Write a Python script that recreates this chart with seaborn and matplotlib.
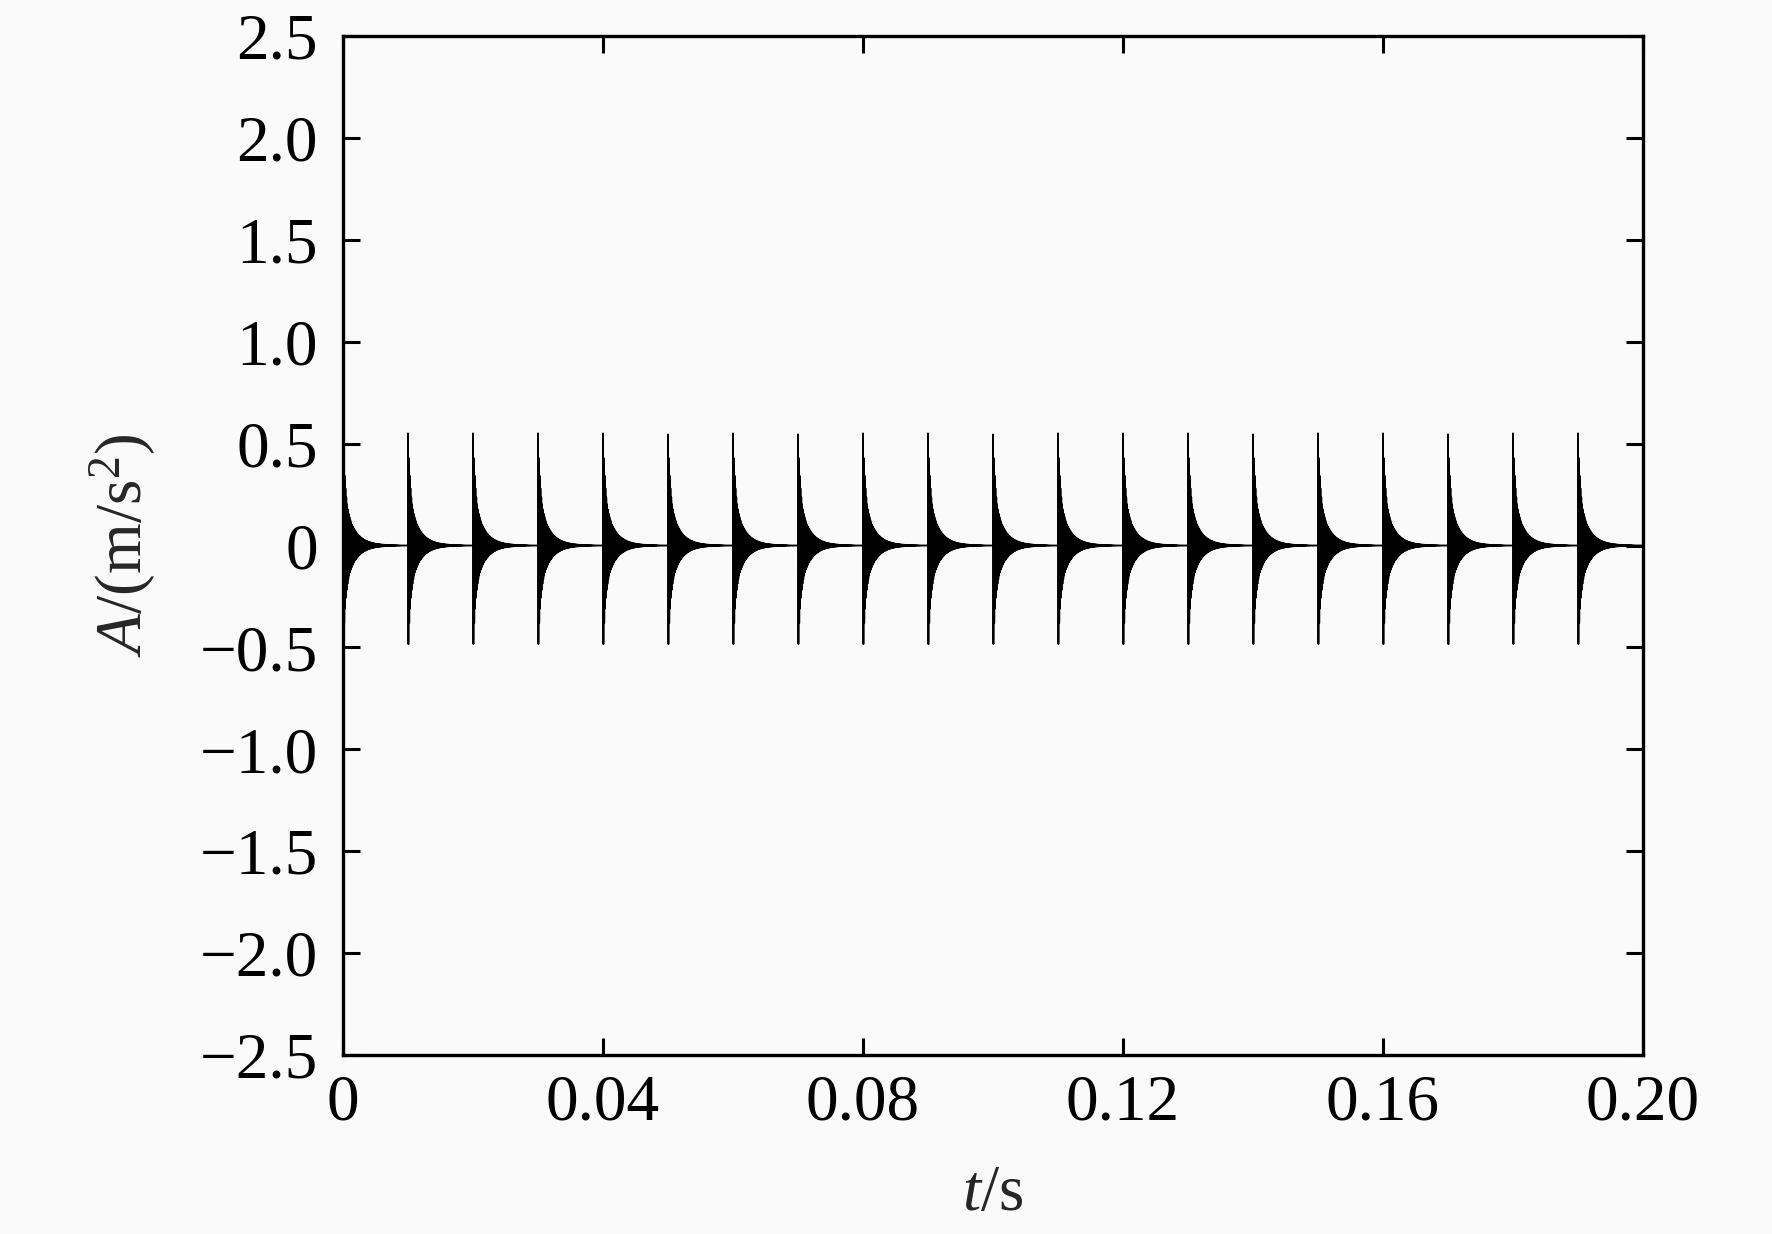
import numpy as np
import pandas as pd
import matplotlib
matplotlib.use("Agg")
import matplotlib.pyplot as plt
import seaborn as sns
from matplotlib.ticker import FixedLocator, FixedFormatter

# ---- data ----
impulse_times = [0.00, 0.01, 0.02, 0.03, 0.04, 0.05, 0.06, 0.07, 0.08, 0.09,
                 0.10, 0.11, 0.12, 0.13, 0.14, 0.15, 0.16, 0.17, 0.18, 0.19]
fast_amplitude = [0.30] * 20      # sharp spike part of each impulse (m/s^2)
slow_amplitude = [0.25] * 20      # slower decaying part (m/s^2)
fast_decay_s = 0.0003             # decay time constant of spike part
slow_decay_s = 0.0015             # decay time constant of slower part
ring_freq_hz = 8000.0             # ringing frequency
x_ticks = [0, 0.04, 0.08, 0.12, 0.16, 0.20]
x_tick_labels = ["0", "0.04", "0.08", "0.12", "0.16", "0.20"]
y_ticks = [-2.5, -2.0, -1.5, -1.0, -0.5, 0, 0.5, 1.0, 1.5, 2.0, 2.5]
y_tick_labels = ["\u22122.5", "\u22122.0", "\u22121.5", "\u22121.0", "\u22120.5", "0",
                 "0.5", "1.0", "1.5", "2.0", "2.5"]

# ---- build the signal ----
t = np.arange(0.0, 0.2, 2e-6)
a = np.zeros_like(t)
for tk, af, asl in zip(impulse_times, fast_amplitude, slow_amplitude):
    tau = t - tk
    m = tau >= 0
    env = af * np.exp(-tau[m] / fast_decay_s) + asl * np.exp(-tau[m] / slow_decay_s)
    a[m] += env * np.cos(2 * np.pi * ring_freq_hz * tau[m])
df = pd.DataFrame({"t": t, "A": a})

# ---- style ----
sns.set_theme(style="ticks")
plt.rcParams["font.family"] = ["Liberation Serif", "DejaVu Serif"]
plt.rcParams["mathtext.fontset"] = "custom"
plt.rcParams["mathtext.rm"] = "Liberation Serif"
plt.rcParams["mathtext.it"] = "Liberation Serif:italic"
plt.rcParams["axes.unicode_minus"] = True

bg = "#fafafa"
fig = plt.figure(figsize=(17.72, 12.34), dpi=100, facecolor=bg)
ax = fig.add_axes([343 / 1772, 1 - 1055 / 1234, 1300 / 1772, 1019 / 1234])
ax.set_facecolor(bg)

sns.lineplot(data=df, x="t", y="A", ax=ax, color="black", linewidth=1.3,
             estimator=None, sort=False, errorbar=None)

ax.set_xlim(0, 0.2)
ax.set_ylim(-2.5, 2.5)
ax.xaxis.set_major_locator(FixedLocator(x_ticks))
ax.xaxis.set_major_formatter(FixedFormatter(x_tick_labels))
ax.yaxis.set_major_locator(FixedLocator(y_ticks))
ax.yaxis.set_major_formatter(FixedFormatter(y_tick_labels))
ax.tick_params(axis="both", which="major", direction="in", length=12, width=2.2,
               labelsize=47, color="black", labelcolor="black",
               top=True, right=True)
ax.tick_params(axis="x", pad=14)
ax.tick_params(axis="y", pad=18)
for s in ax.spines.values():
    s.set_visible(True)
    s.set_linewidth(2.4)
    s.set_color("black")

ax.set_xlabel(r"$t$/s", fontsize=47, labelpad=22)
ax.set_ylabel(r"$A$/(m/s$^2$)", fontsize=47, labelpad=30)

fig.savefig("out.png", dpi=100, facecolor=bg)
